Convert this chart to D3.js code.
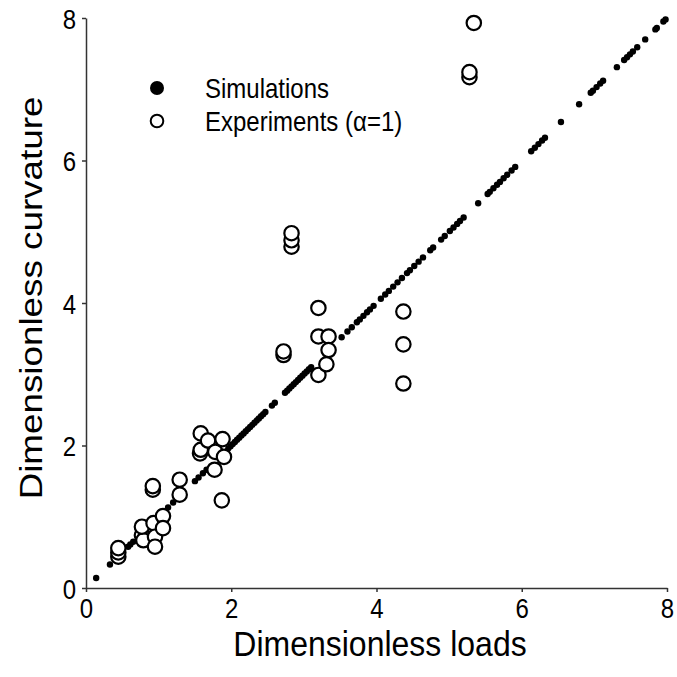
<!DOCTYPE html>
<html><head><meta charset="utf-8">
<script src="https://cdn.jsdelivr.net/npm/d3@7"></script>
<style>html,body{margin:0;padding:0;background:#fff;}svg{display:block;font-family:"Liberation Sans",Arial,sans-serif;}</style>
</head><body>
<svg id="c" width="677" height="677"></svg>
<script>
// Simulations (filled dots)
const simX = [0.14,0.33,0.58,0.61,0.65,1.13,1.20,1.50,1.55,1.61,1.66,
  1.96,1.99,2.02,2.05,2.08,2.11,2.14,2.17,2.20,2.23,2.26,2.29,2.32,2.35,2.38,2.41,2.44,2.47,
  2.56,2.60,2.74,2.77,2.80,2.83,2.86,2.89,2.92,2.95,2.98,3.01,3.04,3.07,3.10,
  3.52,3.60,3.66,3.73,3.77,3.82,3.87,3.91,3.96,4.06,4.12,4.17,4.23,4.29,4.35,
  4.42,4.46,4.52,4.58,4.64,4.74,4.78,4.89,4.94,5.01,5.06,5.11,5.15,5.20,5.40,
  5.53,5.56,5.61,5.66,5.70,5.75,5.80,5.86,5.91,6.13,6.18,6.23,6.28,6.32,6.54,6.79,
  6.95,6.98,7.03,7.08,7.12,7.31,7.41,7.45,7.49,7.53,7.59,7.70,7.84,7.86,7.95,7.98];
const simY = [0.14,0.33,0.58,0.61,0.65,1.13,1.20,1.50,1.55,1.61,1.66,
  1.96,1.99,2.02,2.05,2.08,2.11,2.14,2.17,2.20,2.23,2.26,2.29,2.32,2.35,2.38,2.41,2.44,2.47,
  2.56,2.60,2.74,2.77,2.80,2.83,2.86,2.89,2.92,2.95,2.98,3.01,3.04,3.07,3.10,
  3.52,3.60,3.66,3.73,3.77,3.82,3.87,3.91,3.96,4.06,4.12,4.17,4.23,4.29,4.35,
  4.42,4.46,4.52,4.58,4.64,4.74,4.78,4.89,4.94,5.01,5.06,5.11,5.15,5.20,5.40,
  5.53,5.56,5.61,5.66,5.70,5.75,5.80,5.86,5.91,6.13,6.18,6.23,6.28,6.32,6.54,6.79,
  6.95,6.98,7.03,7.08,7.12,7.31,7.41,7.45,7.49,7.53,7.59,7.70,7.84,7.86,7.95,7.98];
// Experiments (alpha = 1), open circles
const expX = [0.445,0.445,0.445,0.77,0.79,0.77,0.93,0.95,0.95,1.06,1.06,0.92,0.92,1.29,1.29,
  1.57,1.58,1.58,1.68,1.78,1.77,1.88,1.90,1.87,
  2.72,2.72,2.83,2.83,2.83,3.20,3.20,3.20,3.34,3.34,3.31,
  4.37,4.37,4.37,5.28,5.28,5.34];
const expY = [0.44,0.50,0.56,0.74,0.67,0.86,0.91,0.72,0.58,1.01,0.84,1.38,1.43,1.31,1.52,
  1.89,1.94,2.17,2.07,1.91,1.66,2.09,1.84,1.23,
  3.27,3.32,4.79,4.88,4.98,2.99,3.53,3.93,3.53,3.34,3.14,
  2.87,3.42,3.88,7.17,7.24,7.93];
const xTicks = [0,2,4,6,8];
const yTicks = [0,2,4,6,8];
const xTitle = "Dimensionless loads";
const yTitle = "Dimensionless curvature";
const legendLabels = ["Simulations","Experiments (\u03b1=1)"];

const svg = d3.select("#c");
const x = d3.scaleLinear().domain([0,8]).range([86,667]);
const y = d3.scaleLinear().domain([0,8]).range([588,18]);
const SY = 1.15; // vertical stretch of text seen in the reference

const xa = svg.append("g").attr("transform","translate(0,588)")
  .call(d3.axisBottom(x).tickValues(xTicks).tickSize(4).tickSizeOuter(0));
const ya = svg.append("g").attr("transform","translate(86,0)")
  .call(d3.axisLeft(y).tickValues(yTicks).tickSize(4).tickSizeOuter(0));
[xa,ya].forEach(a=>{
  a.selectAll("path").attr("stroke","#333").attr("stroke-width",1.5);
  a.selectAll("line").attr("stroke","#333").attr("stroke-width",1.5);
  a.selectAll("text").attr("font-size",24).attr("fill","#000")
    .attr("font-family","Liberation Sans, Arial, sans-serif")
    .attr("x",0).attr("y",0).attr("dy",null);
});
xa.selectAll(".tick text").attr("text-anchor","middle").attr("transform",`translate(0,30) scale(1,${SY})`);
ya.selectAll(".tick text").attr("text-anchor","end").attr("transform",`translate(-10,10) scale(1,${SY})`);

svg.append("text").attr("transform",`translate(380,656) scale(1,1.12)`).attr("text-anchor","middle")
  .attr("font-size",32).text(xTitle);
svg.append("text").attr("transform",`translate(42,298) rotate(-90) scale(${SY},1)`).attr("text-anchor","middle")
  .attr("font-size",32).text(yTitle);

const sim = simX.map((v,i)=>[v,simY[i]]);
const exp = expX.map((v,i)=>[v,expY[i]]);
svg.append("g").selectAll("circle").data(sim).join("circle")
  .attr("cx",d=>x(d[0])).attr("cy",d=>y(d[1])).attr("r",3.2).attr("fill","#000");
svg.append("g").selectAll("circle").data(exp).join("circle")
  .attr("cx",d=>x(d[0])).attr("cy",d=>y(d[1])).attr("r",7.2)
  .attr("fill","#fff").attr("stroke","#000").attr("stroke-width",2.2);

// legend
const lg = svg.append("g");
lg.append("circle").attr("cx",157).attr("cy",88).attr("r",7).attr("fill","#000");
lg.append("circle").attr("cx",157).attr("cy",121).attr("r",6.3).attr("fill","#fff").attr("stroke","#000").attr("stroke-width",2);
lg.selectAll("text").data(legendLabels).join("text")
  .attr("transform",(d,i)=>`translate(205,${98+i*33}) scale(1,${SY})`)
  .attr("font-size",24).text(d=>d);
</script>
</body></html>
